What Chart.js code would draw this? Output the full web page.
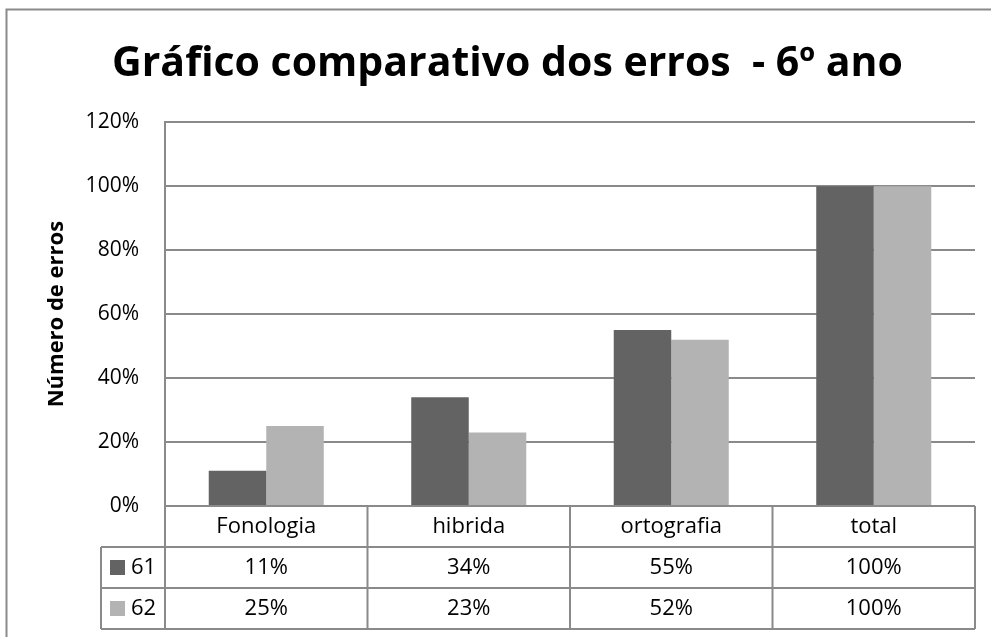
<!DOCTYPE html>
<html>
<head>
<meta charset="utf-8">
<script src="https://cdn.jsdelivr.net/npm/chart.js@4"></script>
<style>
  html, body { margin: 0; padding: 0; background: #fff; }
  #wrap { width: 991px; height: 637px; position: relative; }
</style>
</head>
<body>
<div id="wrap"><canvas id="chart"></canvas></div>
<script>
// data
const categories = ['Fonologia', 'hibrida', 'ortografia', 'total'];
const seriesNames = ['61', '62'];
const values61 = [11, 34, 55, 100];
const values62 = [25, 23, 52, 100];
const seriesColors = ['#636363', '#b3b3b3'];

const FONT = "'Open Sans', sans-serif";
const LINE = '#8a8a8a';

// data table under the plot, drawn from the x scale
const dataTable = {
    id: 'dataTable',
    afterDraw(chart) {
        const ctx = chart.ctx;
        const x = chart.scales.x;
        const area = chart.chartArea;
        const edges = [area.left];
        for (let i = 1; i < categories.length; i++) {
            edges.push((x.getPixelForValue(i - 1) + x.getPixelForValue(i)) / 2);
        }
        edges.push(area.right);

        const rowH = 41;
        const top = area.bottom;
        const keyLeft = 101;
        const rows = [values61, values62];

        ctx.save();
        ctx.strokeStyle = LINE;
        ctx.lineWidth = 2;
        ctx.beginPath();
        // header row (no legend cell)
        ctx.moveTo(area.left, top); ctx.lineTo(area.right, top);
        edges.forEach(e => { ctx.moveTo(e, top); ctx.lineTo(e, top + rowH * 3); });
        // series rows
        for (let r = 1; r <= 3; r++) {
            ctx.moveTo(keyLeft, top + rowH * r); ctx.lineTo(area.right, top + rowH * r);
        }
        ctx.moveTo(keyLeft, top + rowH); ctx.lineTo(keyLeft, top + rowH * 3);
        ctx.stroke();

        ctx.fillStyle = '#000';
        ctx.font = '22px ' + FONT;
        ctx.textAlign = 'center';
        ctx.textBaseline = 'middle';
        categories.forEach((c, i) => {
            ctx.fillText(c, (edges[i] + edges[i + 1]) / 2, top + rowH / 2);
        });
        rows.forEach((vals, r) => {
            const cy = top + rowH * (r + 1) + rowH / 2;
            vals.forEach((v, i) => {
                ctx.fillText(v + '%', (edges[i] + edges[i + 1]) / 2, cy);
            });
            ctx.fillStyle = seriesColors[r];
            ctx.fillRect(110, cy - 7.5, 15, 15);
            ctx.fillStyle = '#000';
            ctx.textAlign = 'left';
            ctx.fillText(seriesNames[r], 131, cy);
            ctx.textAlign = 'center';
        });

        // outer chart border
        ctx.beginPath();
        ctx.moveTo(6.5, chart.height); ctx.lineTo(6.5, 9.5); ctx.lineTo(chart.width, 9.5);
        ctx.stroke();
        ctx.restore();
    }
};

new Chart(document.getElementById('chart'), {
    type: 'bar',
    data: {
        labels: categories,
        datasets: [
            { label: seriesNames[0], data: values61, backgroundColor: seriesColors[0] },
            { label: seriesNames[1], data: values62, backgroundColor: seriesColors[1] }
        ]
    },
    options: {
        responsive: true,
        maintainAspectRatio: false,
        animation: false,
        datasets: { bar: { categoryPercentage: 0.568, barPercentage: 1.0 } },
        layout: { padding: { left: 40, right: 16, top: 0, bottom: 131 } },
        scales: {
            x: { display: false },
            y: {
                min: 0,
                max: 120,
                afterFit: s => { s.width = 125; },
                ticks: {
                    stepSize: 20,
                    padding: 26,
                    color: '#000',
                    font: { family: FONT, size: 21 },
                    callback: v => v + '%'
                },
                grid: { color: LINE, lineWidth: 2, drawTicks: false },
                border: { display: true, color: LINE, width: 2 },
                title: {
                    display: true,
                    text: 'Número de erros',
                    color: '#000',
                    font: { family: FONT, size: 22, weight: 'bold' },
                    padding: { top: 4, bottom: 0 }
                }
            }
        },
        plugins: {
            legend: { display: false },
            tooltip: { enabled: false },
            title: {
                display: true,
                text: 'Gráfico comparativo dos erros  - 6º ano',
                color: '#000',
                font: { family: FONT, size: 41, weight: 'bold' },
                padding: { top: 40, bottom: 33 }
            }
        }
    },
    plugins: [dataTable]
});
</script>
</body>
</html>
